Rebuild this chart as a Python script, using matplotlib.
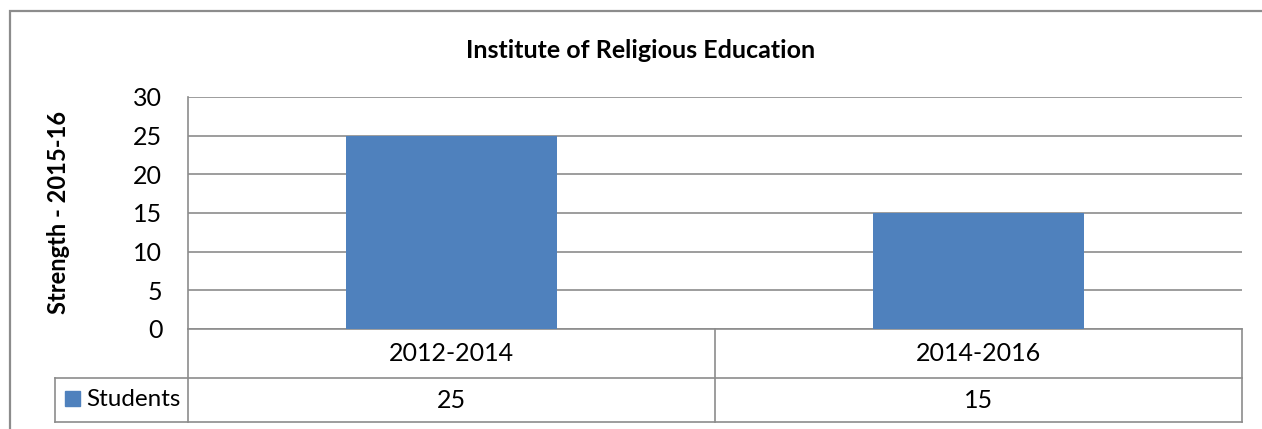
import matplotlib
matplotlib.use('Agg')
import matplotlib.pyplot as plt
from matplotlib.patches import Rectangle

# Dados do gráfico
categorias = ['2012-2014', '2014-2016']
alunos = [25, 15]
serie = 'Students'
titulo = 'Institute of Religious Education'
rotulo_y = 'Strength - 2015-16'
ticks_y = [0, 5, 10, 15, 20, 25, 30]

plt.rcParams['font.family'] = ['Lato', 'DejaVu Sans']

W, H = 1262, 429
fig = plt.figure(figsize=(W / 100, H / 100), dpi=100)

cinza = '#8c8c8c'
azul = '#4F81BD'
fs = 18

# area do grafico em pixels
x0, x1, y0, y1 = 188, 1242, 97, 329
aw, ah = x1 - x0, y1 - y0
ax = fig.add_axes([x0 / W, 1 - y1 / H, aw / W, ah / H])

# borda externa do grafico
fig.patches.append(Rectangle((10 / W, -0.1), 1.2, 1 - 11 / H + 0.1, transform=fig.transFigure,
                             fill=False, edgecolor=cinza, linewidth=1.6))

x = list(range(len(categorias)))
ax.bar(x, alunos, width=0.4, color=azul, zorder=3)
ax.set_xlim(-0.5, len(categorias) - 0.5)
ax.set_ylim(0, 30)
ax.set_yticks(ticks_y)
ax.set_xticks([])
ax.tick_params(axis='y', length=0, pad=18.5, labelsize=fs)
ax.grid(axis='y', color=cinza, linewidth=1.2, zorder=0)
for s in ['top', 'right', 'bottom']:
    ax.spines[s].set_visible(False)
ax.spines['left'].set_color(cinza)
ax.spines['left'].set_linewidth(1.2)

ax.set_ylabel(rotulo_y, fontsize=17, fontweight='bold')
ax.yaxis.set_label_coords((70 - x0) / aw, 0.5)

fig.text(641 / W, 1 - 50 / H, titulo, ha='center', va='center', fontsize=fs, fontweight='bold')

# tabela de dados (x em dados, y em eixos)
trans = ax.get_xaxis_transform()
por_px = len(categorias) / aw
def ya(ypx):
    return (y1 - ypx) / ah

lin0, lin1, lin2 = 329, 378, 422
x_rot = -0.5 - (x0 - 55) * por_px
bordas = [-0.5 + k for k in range(len(categorias) + 1)]
kw = dict(color=cinza, linewidth=1.2, transform=trans, clip_on=False)
ax.plot([-0.5, bordas[-1]], [ya(lin0)] * 2, **kw)
ax.plot([x_rot, bordas[-1]], [ya(lin1)] * 2, **kw)
ax.plot([x_rot, bordas[-1]], [ya(lin2)] * 2, **kw)
ax.plot([x_rot, x_rot], [ya(lin1), ya(lin2)], **kw)
for b in bordas:
    ax.plot([b, b], [ya(lin0), ya(lin2)], **kw)

for j, cat in enumerate(categorias):
    ax.text(j, ya((lin0 + lin1) / 2), cat, transform=trans, fontsize=fs, ha='center', va='center')
    ax.text(j, ya((lin1 + lin2) / 2), str(alunos[j]), transform=trans, fontsize=fs,
            ha='center', va='center')

# chave da legenda na celula
ax.add_patch(Rectangle((x_rot + 10 * por_px, ya(406)), 15 * por_px, 15 / ah, transform=trans,
                       color=azul, clip_on=False))
ax.text(x_rot + 31 * por_px, ya(400), serie, transform=trans, fontsize=17.5, ha='left', va='center')

fig.savefig('out.png', dpi=100)
